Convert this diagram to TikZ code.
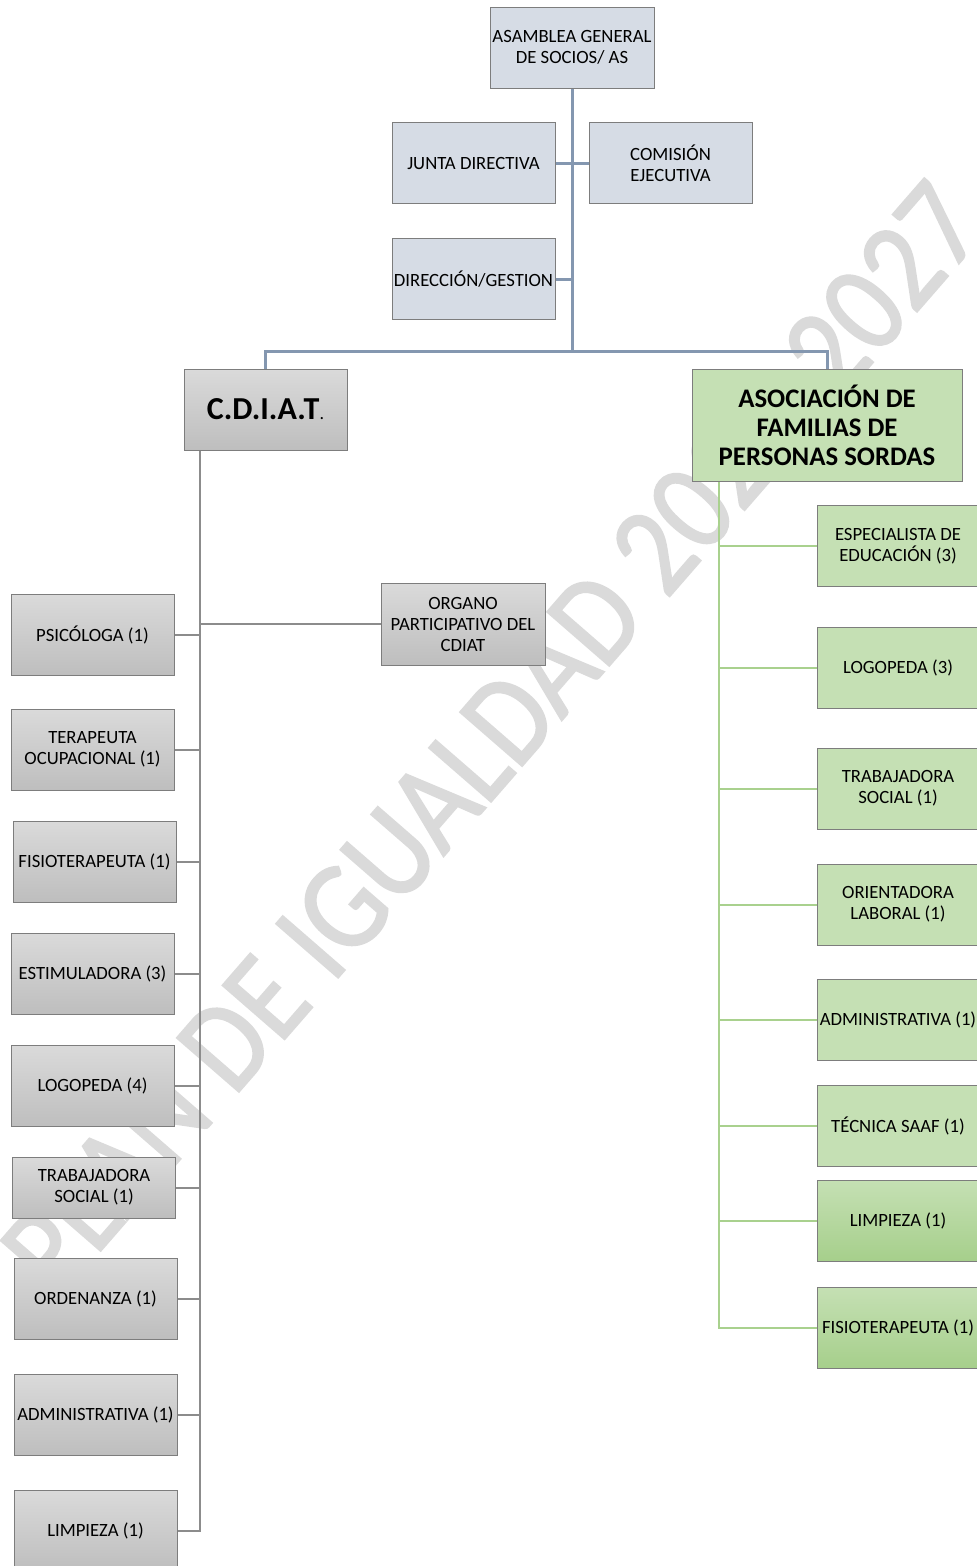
\documentclass[tikz,border=0pt]{standalone}
\usepackage{fontspec}
\setmainfont{Carlito}
\newfontfamily\wmfont[FakeBold=1.5,FakeStretch=0.88]{Carlito}
\definecolor{topfill}{RGB}{214,220,229}
\definecolor{blueline}{RGB}{132,151,176}
\definecolor{boxborder}{RGB}{125,125,125}
\definecolor{greytop}{RGB}{218,218,218}
\definecolor{greybot}{RGB}{190,190,190}
\definecolor{greyline}{RGB}{140,140,140}
\definecolor{greenfill}{RGB}{197,224,180}
\definecolor{greendark}{RGB}{166,207,139}
\definecolor{greenline}{RGB}{169,209,142}
\definecolor{wm}{RGB}{218,218,218}
\tikzset{
  base/.style={rectangle, draw=boxborder, line width=1pt, align=center, inner sep=1pt,
    minimum width=163pt, minimum height=81pt,
    font=\fontsize{18.7}{21}\selectfont, text=black},
  topbox/.style={base, fill=topfill},
  greybox/.style={base, top color=greytop, bottom color=greybot},
  greenbox/.style={base, fill=greenfill, minimum width=162pt},
  greenbox2/.style={base, top color=greenfill, bottom color=greendark, minimum width=162pt},
  bline/.style={draw=blueline, line width=3pt},
  gline/.style={draw=greyline, line width=2pt},
  grline/.style={draw=greenline, line width=2pt},
}
\begin{document}
\begin{tikzpicture}[x=1pt,y=-1pt]
\useasboundingbox (0,0) rectangle (977,1566);
\fill[white] (0,0) rectangle (977,1566);
% watermark
\node[rotate=49, text=wm, inner sep=0pt, font=\wmfont\fontsize{128}{128}\selectfont] (wmark) at (492,738) {PLAN DE IGUALDAD 2023-2027};
% top boxes
\node[topbox, minimum width=164pt] (asam) at (572,47.5) {ASAMBLEA GENERAL\\DE SOCIOS/ AS};
\node[topbox] (junta) at (473.5,163) {JUNTA DIRECTIVA};
\node[topbox] (comision) at (670.5,163) {COMISIÓN\\EJECUTIVA};
\node[topbox] (direc) at (473.5,279) {DIRECCIÓN/GESTION};
% main branches
\node[greybox] (cdiat) at (265.5,409.5) {{\fontsize{32}{34}\selectfont\bfseries C.D.I.A.T}{\fontsize{18}{20}\selectfont .}};
\node[greenbox, minimum width=270pt, minimum height=112pt, font=\fontsize{26.8}{29}\selectfont\bfseries] (asoc) at (827,425) {ASOCIACIÓN DE\\FAMILIAS DE\\PERSONAS SORDAS};
\coordinate (jbus) at (572,351);
\draw[bline] (asam.south) -- (jbus);
\draw[bline] (junta.east) -- (junta.east -| asam.south);
\draw[bline] (comision.west) -- (comision.west -| asam.south);
\draw[bline] (direc.east) -- (direc.east -| asam.south);
\draw[bline] (cdiat.north) |- (jbus) -| (asoc.north);
% CDIAT column
\node[greybox, minimum width=164pt, minimum height=82pt] (organo) at (463,624) {ORGANO\\PARTICIPATIVO DEL\\CDIAT};
\node[greybox] (psi) at (92.5,634.5) {PSICÓLOGA (1)};
\node[greybox] (tera) at (92.5,749.5) {TERAPEUTA\\OCUPACIONAL (1)};
\node[greybox] (fisio) at (94.5,861.5) {FISIOTERAPEUTA (1)};
\node[greybox] (esti) at (92.5,973.5) {ESTIMULADORA (3)};
\node[greybox] (logo) at (92.5,1086) {LOGOPEDA (4)};
\node[greybox, minimum height=61pt] (trab) at (94,1187.5) {TRABAJADORA\\SOCIAL (1)};
\node[greybox] (orde) at (95.5,1298.5) {ORDENANZA (1)};
\node[greybox] (admin) at (95.5,1414.5) {ADMINISTRATIVA (1)};
\node[greybox] (limp) at (95.5,1530.5) {LIMPIEZA (1)};
\coordinate (ctop) at ([xshift=16pt]cdiat.south west);
\draw[gline] (ctop) |- (limp.east);
\draw[gline] (organo.west) -- (organo.west -| ctop);
\foreach \n in {psi,tera,fisio,esti,logo,trab,orde,admin}
  \draw[gline] (\n.east) -- (\n.east -| ctop);
% ASOCIACION column
\node[greenbox] (gesp) at (898,546) {ESPECIALISTA DE\\EDUCACIÓN (3)};
\node[greenbox] (glogo) at (898,668) {LOGOPEDA (3)};
\node[greenbox] (gtrab) at (898,788.5) {TRABAJADORA\\SOCIAL (1)};
\node[greenbox] (gori) at (898,904.5) {ORIENTADORA\\LABORAL (1)};
\node[greenbox] (gadmin) at (898,1019.5) {ADMINISTRATIVA (1)};
\node[greenbox] (gtec) at (898,1125.5) {TÉCNICA SAAF (1)};
\node[greenbox2] (glimp) at (898,1220.5) {LIMPIEZA (1)};
\node[greenbox2] (gfis) at (898,1327.5) {FISIOTERAPEUTA (1)};
\coordinate (gtop) at ([xshift=27pt]asoc.south west);
\draw[grline] (gtop) |- (gfis.west);
\foreach \n in {gesp,glogo,gtrab,gori,gadmin,gtec,glimp}
  \draw[grline] (\n.west) -- (\n.west -| gtop);
\end{tikzpicture}
\end{document}
